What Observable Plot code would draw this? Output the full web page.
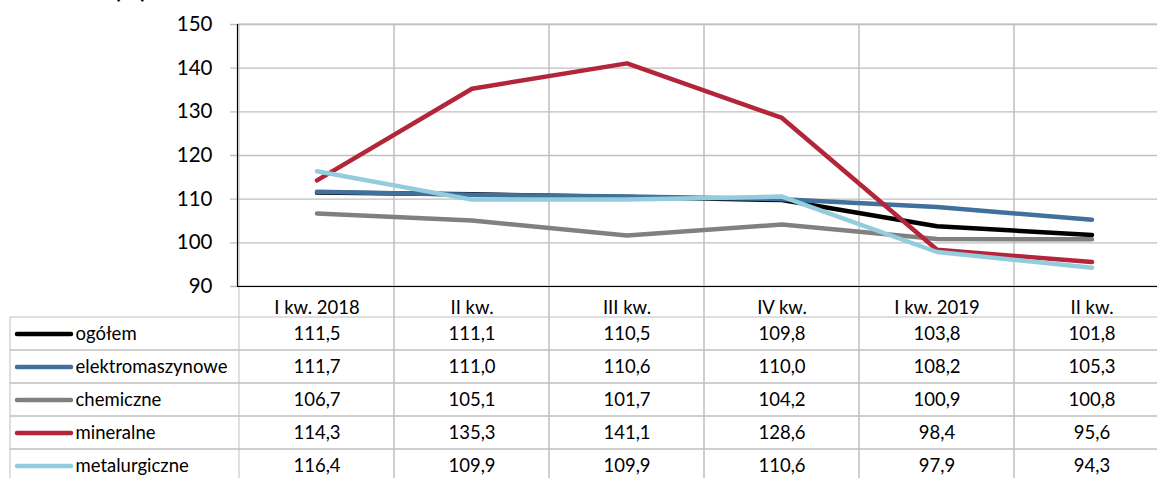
<!DOCTYPE html>
<html><head><meta charset="utf-8">
<script src="https://cdn.jsdelivr.net/npm/d3@7"></script>
<script src="https://cdn.jsdelivr.net/npm/@observablehq/plot@0.6"></script>
<style>
body{margin:0;background:#fff;width:1157px;height:478px;overflow:hidden;position:relative;font-family:Lato,sans-serif;}
#title{position:absolute;left:114px;top:-26px;font-size:24px;font-weight:bold;color:#000;}
#chart{position:absolute;left:0;top:0}
#table{position:absolute;left:0;top:287px}
</style></head><body>
<div id="title">(%)</div>
<div id="table"></div><div id="chart"></div>
<script>
const quarters = ["I kw. 2018", "II kw.", "III kw.", "IV kw.", "I kw. 2019", "II kw."];
const series = ["ogółem", "elektromaszynowe", "chemiczne", "mineralne", "metalurgiczne"];
const colors = ["#000000", "#41709c", "#808080", "#b3263a", "#93cddd"];
const ogolem = [111.5, 111.1, 110.5, 109.8, 103.8, 101.8];
const elektromaszynowe = [111.7, 111.0, 110.6, 110.0, 108.2, 105.3];
const chemiczne = [106.7, 105.1, 101.7, 104.2, 100.9, 100.8];
const mineralne = [114.3, 135.3, 141.1, 128.6, 98.4, 95.6];
const metalurgiczne = [116.4, 109.9, 109.9, 110.6, 97.9, 94.3];
const yTicks = [90, 100, 110, 120, 130, 140, 150];

const values = [ogolem, elektromaszynowe, chemiczne, mineralne, metalurgiczne];
const qIdx = quarters.map((_, i) => i);
const rows = [];
series.forEach((s, si) => values[si].forEach((v, q) => rows.push({s, q, v})));
const fmt = v => v.toFixed(1).replace(".", ",");
const grid = "#bfbfbf";

const chart = Plot.plot({
  width: 1157, height: 287,
  marginTop: 24, marginBottom: 1, marginLeft: 237, marginRight: 0,
  style: {fontFamily: "Lato, sans-serif", color: "#000", background: "transparent", overflow: "visible"},
  x: {type: "band", domain: qIdx, range: [237, 1170], padding: 0, axis: null},
  y: {domain: [90, 150], axis: null},
  color: {domain: series, range: colors},
  marks: [
    Plot.cell(qIdx, {x: d => d, stroke: grid, fill: "none", strokeWidth: 1}),
    Plot.gridY(yTicks, {stroke: grid, strokeOpacity: 1, strokeWidth: 1.3, insetLeft: -7}),
    Plot.axisY(yTicks, {tickSize: 0, tickPadding: 25, fontSize: 20.5, fill: "#000", label: null}),
    Plot.ruleY([90], {stroke: "#000", strokeWidth: 1.2}),
    Plot.frame({anchor: "left", stroke: "#000", strokeWidth: 1.2}),
    Plot.line(rows, {x: "q", y: "v", z: "s", stroke: "s", strokeWidth: 4.5, strokeLinecap: "round", strokeLinejoin: "round"})
  ]
});
document.getElementById("chart").append(chart);

const table = Plot.plot({
  width: 1157, height: 191,
  marginTop: 0, marginBottom: 0, marginLeft: 10, marginRight: 0,
  style: {fontFamily: "Lato, sans-serif", fontSize: "18.5px", color: "#000", overflow: "hidden", background: "transparent"},
  x: {type: "band", domain: qIdx, range: [237, 1170], padding: 0, axis: null},
  y: {type: "band", domain: series, range: [28, 197], padding: 0, axis: null},
  color: {domain: series, range: colors},
  marks: [
    Plot.cell(qIdx, {x: d => d, stroke: grid, fill: "none", insetTop: -5, insetBottom: -5}),
    Plot.cell(series, {y: d => d, stroke: grid, fill: "none", insetRight: -5}),
    Plot.text(qIdx, {x: d => d, text: d => quarters[d], frameAnchor: "top", dy: 13, fill: "#000", fontSize: 18.5}),
    Plot.text(rows, {x: "q", y: "s", text: d => fmt(d.v), fill: "#000", fontSize: 18.5}),
    Plot.ruleY(series, {y: d => d, stroke: d => d, strokeWidth: 4.5, strokeLinecap: "round", insetLeft: 7, insetRight: 1086}),
    Plot.text(series, {y: d => d, text: d => d, frameAnchor: "left", dx: 65, textAnchor: "start", fill: "#000", fontSize: 18.5})
  ]
});
document.getElementById("table").append(table);
</script>
</body></html>
